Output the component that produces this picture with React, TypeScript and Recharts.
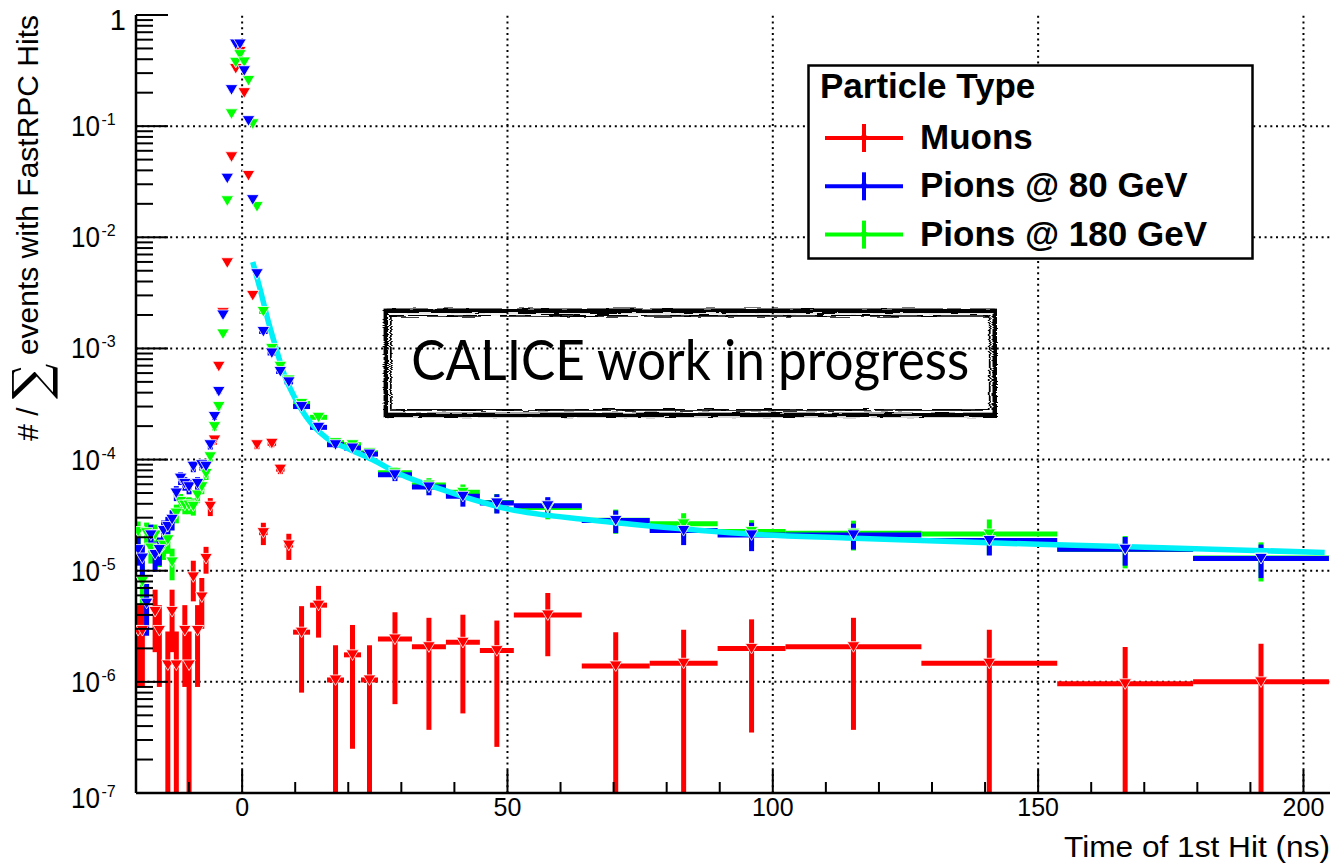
import React from 'react';
import {
  ComposedChart,
  XAxis,
  YAxis,
  Scatter,
  Line,
  ErrorBar,
  ReferenceLine,
  ReferenceArea,
  Legend,
} from 'recharts';

// Time-of-first-hit histogram binning (ns). The TDC counts in 0.8 ns steps;
// bins are merged further away from the prompt peak.
const BIN_EDGES = [
  -20, -19.2, -18.4, -17.6, -16.8, -16, -15.2, -14.4, -13.6, -12.8,
  -12, -11.2, -10.4, -9.6, -8.8, -8, -7.2, -6.4, -5.6, -4.8,
  -4, -3.2, -2.4, -1.6, -0.8, 0, 0.8, 1.6, 2.4, 3.2,
  4.8, 6.4, 8, 9.6, 12.8, 16, 19.2, 22.4, 25.6, 32,
  38.4, 44.8, 51.2, 64, 76.8, 89.6, 102.4, 128, 153.6, 179.2,
  204.8,
];

// Normalised entries per bin (null = empty bin) and their uncertainties.
const MUON_RATE = [
  2.9e-6, 2.9e-6, null, null, 4.3e-6, 2.9e-6, null, 1.42e-6, 4.3e-6, 1.42e-6,
  null, 2.9e-6, 1.42e-6, 8.8e-6, 2.9e-6, 5.8e-6, 1.29e-5, 3.8e-5, 1.5e-4, 6.9e-4,
  2.1e-3, 5.9e-3, 5.3e-2, 0.33, 0.47, 0.2, 3.6e-2, 3.0e-3, 1.36e-4, 2.2e-5,
  1.4e-4, 8.2e-5, 1.7e-5, 2.8e-6, 4.9e-6, 1.04e-6, 1.75e-6, 1.04e-6, 2.43e-6, 2.07e-6,
  2.27e-6, 1.91e-6, 4.0e-6, 1.39e-6, 1.47e-6, 2.0e-6, 2.07e-6, 1.47e-6, 9.6e-7, 1.0e-6,
];
const MUON_ERR = [
  2.0e-6, 2.0e-6, 0, 0, 2.45e-6, 2.0e-6, 0, 1.42e-6, 2.45e-6, 1.42e-6,
  0, 2.0e-6, 1.42e-6, 3.5e-6, 2.0e-6, 2.8e-6, 3.5e-6, 7e-6, 1.4e-5, 3e-5,
  6e-5, 1e-4, 0, 0, 0, 0, 0, 6e-5, 1.2e-5, 5e-6,
  1.1e-5, 8e-6, 4.5e-6, 2.0e-6, 2.4e-6, 1.1e-6, 1.5e-6, 1.1e-6, 1.8e-6, 1.7e-6,
  1.75e-6, 1.65e-6, 2.3e-6, 1.4e-6, 1.47e-6, 1.65e-6, 1.7e-6, 1.47e-6, 1.1e-6, 1.2e-6,
];

const PION80_RATE = [
  1.55e-5, 1.3e-5, 5.1e-6, 2.1e-5, 1.4e-5, 1.55e-5, 2.3e-5, 2.5e-5, 2.9e-5, 5.0e-5,
  6.8e-5, 6.1e-5, 5.7e-5, 8.7e-5, 6.1e-5, 9.0e-5, 8.7e-5, 1.36e-4, 2.44e-4, 4.1e-4,
  2.0e-3, 3.4e-2, 0.213, 0.548, 0.548, 0.315, 0.112, 2.18e-2, 4.7e-3, 1.42e-3,
  9.1e-4, 6.2e-4, 5.0e-4, 3.0e-4, 1.95e-4, 1.36e-4, 1.27e-4, 1.12e-4, 7.3e-5, 5.67e-5,
  4.67e-5, 4.07e-5, 3.84e-5, 2.83e-5, 2.3e-5, 2.1e-5, 2.1e-5, 1.87e-5, 1.56e-5, 1.29e-5,
];
const PION80_ERR = [
  4.4e-6, 4e-6, 2.5e-6, 5e-6, 4.2e-6, 4.4e-6, 5.3e-6, 5.5e-6, 6e-6, 7.7e-6,
  9e-6, 8.5e-6, 8.3e-6, 1e-5, 8.5e-6, 1.04e-5, 1e-5, 1.3e-5, 1.7e-5, 2.2e-5,
  5e-5, 0, 0, 0, 0, 0, 0, 0, 7e-5, 3.5e-5,
  2.8e-5, 2.3e-5, 2e-5, 1.2e-5, 1e-5, 9e-6, 9e-6, 8e-6, 9e-6, 9e-6,
  9e-6, 8e-6, 7.5e-6, 6.5e-6, 6e-6, 6e-6, 5.5e-6, 5e-6, 4.5e-6, 4.3e-6,
];

const PION180_RATE = [
  2.25e-5, 8e-6, 2.2e-5, 1.6e-5, 2.1e-5, 1.5e-5, 1.7e-5, 1.9e-5, 1.2e-5, 3.3e-5,
  4.2e-5, 3.9e-5, 3.9e-5, 3.8e-5, 4.8e-5, 5.7e-5, 7.5e-5, 1.06e-4, 1.98e-4, 3.0e-4,
  1.35e-3, 2.13e-2, 0.129, 0.375, 0.44, 0.378, 0.258, 0.105, 1.89e-2, 2.15e-3,
  1.0e-3, 6.9e-4, 5.2e-4, 3.2e-4, 2.4e-4, 1.42e-4, 1.36e-4, 1.15e-4, 7.6e-5, 5.9e-5,
  5.07e-5, 4.1e-5, 3.7e-5, 2.85e-5, 2.64e-5, 2.25e-5, 2.17e-5, 2.14e-5, 1.55e-5, 1.3e-5,
];
const PION180_ERR = [
  5.2e-6, 3e-6, 5.1e-6, 4.4e-6, 5e-6, 4.2e-6, 4.5e-6, 4.8e-6, 3.8e-6, 6.3e-6,
  7e-6, 6.8e-6, 6.8e-6, 6.7e-6, 7.5e-6, 8.2e-6, 9.5e-6, 1.1e-5, 1.5e-5, 1.9e-5,
  4e-5, 0, 0, 0, 0, 0, 0, 0, 0, 5e-5,
  3e-5, 2.5e-5, 2.1e-5, 1.3e-5, 1.1e-5, 9e-6, 9e-6, 8e-6, 9e-6, 9e-6,
  9e-6, 8e-6, 8e-6, 7e-6, 6.5e-6, 6e-6, 6.5e-6, 7.5e-6, 5e-6, 5e-6,
];

// Fitted late-hit curve for the pion samples.
const FIT_TIME = [2, 3.4, 5, 6.4, 8, 10, 12, 16, 20, 24.5, 30, 37, 50, 66, 80, 95, 114, 150, 175, 204];
const FIT_RATE = [
  6.0e-3, 3.4e-3, 1.7e-3, 1.0e-3, 5.7e-4, 3.55e-4, 2.45e-4, 1.55e-4, 1.25e-4, 1.0e-4,
  7.3e-5, 5.5e-5, 3.6e-5, 2.85e-5, 2.45e-5, 2.15e-5, 1.97e-5, 1.73e-5, 1.6e-5, 1.46e-5,
];

// Axes
const X_DOMAIN = [-20, 205];
const X_TICKS = [-10, 0, 10, 20, 30, 40, 50, 60, 70, 80, 90, 100, 110, 120, 130, 140, 150, 160, 170, 180, 190, 200];
const X_LABELS = [0, 50, 100, 150, 200];
const Y_DECADES = [1e-7, 1e-6, 1e-5, 1e-4, 1e-3, 1e-2, 1e-1, 1];
const Y_MULTIPLIERS = [1, 2, 3, 4, 5, 6, 7, 8, 9];
const Y_TICKS = Y_DECADES.flatMap((d) => (d === 1 ? [1] : Y_MULTIPLIERS.map((m) => m * d)));

// Text
const SERIES_NAMES = ['Muons', 'Pions @ 80 GeV', 'Pions @ 180 GeV'];
const LEGEND_TITLE = 'Particle Type';
const X_TITLE = 'Time of 1st Hit (ns)';
const Y_TITLE_PRE = '# / ';
const Y_TITLE_POST = ' events with FastRPC Hits';
const STAMP_TEXT = 'CALICE work in progress';
// stamp placement in data coordinates
const STAMP_X = [26.7, 142.2];
const STAMP_Y = [2.42e-4, 2.27e-3];

const COLORS = { Muons: '#ff0000', 'Pions @ 80 GeV': '#0000ff', 'Pions @ 180 GeV': '#00ff00' };
const FIT_COLOR = '#00f0f8';
const FONT = '"Liberation Sans", Arial, Helvetica, sans-serif';
const BAR_WIDTH = 5;

type Row = { x: number; y: number; ey: [number, number]; ex: [number, number] };

function buildRows(rate: (number | null)[], err: number[]): Row[] {
  const yFloor = Y_DECADES[0];
  const rows: Row[] = [];
  rate.forEach((v, i) => {
    if (v == null) return;
    const lo = BIN_EDGES[i];
    const hi = BIN_EDGES[i + 1];
    const x = (lo + hi) / 2;
    const e = err[i];
    rows.push({
      x,
      y: v,
      ey: [Math.min(e, v - yFloor), e],
      ex: [x - lo, Math.min(hi, X_DOMAIN[1]) - x],
    });
  });
  return rows;
}

const muonRows = buildRows(MUON_RATE, MUON_ERR);
const pion80Rows = buildRows(PION80_RATE, PION80_ERR);
const pion180Rows = buildRows(PION180_RATE, PION180_ERR);
const fitRows = FIT_TIME.map((x, i) => ({ x, y: FIT_RATE[i] }));

const isDecade = (v: number) => Math.abs(Math.log10(v) - Math.round(Math.log10(v))) < 1e-6;

const DownTriangle = (props: any) => {
  const { cx, cy, fill } = props;
  if (cx == null || cy == null || isNaN(cx) || isNaN(cy)) return null;
  return (
    <polygon
      points={`${cx - 6.3},${cy - 5} ${cx + 6.3},${cy - 5} ${cx},${cy + 5.6}`}
      fill={fill}
      stroke="#ffffff"
      strokeWidth={0.8}
    />
  );
};

const LeftTick = (props: any) => {
  const { x, y, payload } = props;
  const v = payload.value;
  const major = isDecade(v);
  const exp = Math.round(Math.log10(v));
  const base = y + (exp === -7 ? 15 : 10);
  return (
    <g>
      <line x1={x} x2={x + (major ? 32 : 17)} y1={y} y2={y} stroke="#000" strokeWidth={2} />
      {major && exp === 0 && (
        <text x={x - 10} y={y + 15} textAnchor="end" fontFamily={FONT} fontSize={29} fill="#000">
          1
        </text>
      )}
      {major && exp !== 0 && (
        <g fontFamily={FONT} fill="#000">
          <text x={x - 36} y={base} textAnchor="end" fontSize={29} textLength={29} lengthAdjust="spacingAndGlyphs">
            10
          </text>
          <text x={x - 34.5} y={base - 11} textAnchor="start" fontSize={16}>
            {`${exp}`}
          </text>
        </g>
      )}
    </g>
  );
};

const RightTick = (props: any) => {
  const { x, y, payload } = props;
  const major = isDecade(payload.value);
  return <line x1={x} x2={x - (major ? 32 : 17)} y1={y} y2={y} stroke="#000" strokeWidth={2} />;
};

const BottomTick = (props: any) => {
  const { x, y, payload } = props;
  const major = X_LABELS.includes(payload.value);
  return (
    <g>
      <line x1={x} x2={x} y1={y} y2={y - (major ? 23 : 11)} stroke="#000" strokeWidth={2} />
      {major && (
        <text x={x} y={y + 23} textAnchor="middle" fontFamily={FONT} fontSize={25} fill="#000">
          {payload.value}
        </text>
      )}
    </g>
  );
};

const TopTick = (props: any) => {
  const { x, y, payload } = props;
  const major = X_LABELS.includes(payload.value);
  return <line x1={x} x2={x} y1={y} y2={y + (major ? 23 : 11)} stroke="#000" strokeWidth={2} />;
};

const XTitle = (props: any) => {
  const vb = props.viewBox;
  return (
    <text
      x={vb.x + vb.width}
      y={vb.y + 64}
      textAnchor="end"
      fontFamily={FONT}
      fontSize={30}
      textLength={266}
      lengthAdjust="spacingAndGlyphs"
      fill="#000"
    >
      {X_TITLE}
    </text>
  );
};

const YTitle = (props: any) => {
  const vb = props.viewBox;
  return (
    <text
      transform={`translate(${vb.x + 38}, ${vb.y}) rotate(-90)`}
      textAnchor="end"
      fontFamily={FONT}
      fontSize={30}
      fill="#000"
    >
      <tspan>{Y_TITLE_PRE}</tspan>
      <tspan fontFamily='"DejaVu Serif", "Liberation Serif", serif' fontSize={50} dy={10}>
        ∑
      </tspan>
      <tspan dy={-10}>{Y_TITLE_POST}</tspan>
    </text>
  );
};

const Stamp = (props: any) => {
  const { x, y, width, height } = props;
  if (x == null || isNaN(x)) return null;
  return (
    <g>
      <defs>
        <filter id="brush" x="-5%" y="-20%" width="110%" height="140%">
          <feTurbulence type="fractalNoise" baseFrequency="0.05 0.9" numOctaves={2} seed={7} result="n" />
          <feDisplacementMap in="SourceGraphic" in2="n" scale={4} xChannelSelector="R" yChannelSelector="G" />
        </filter>
      </defs>
      <rect x={x} y={y} width={width} height={height} fill="#ffffff" />
      <g filter="url(#brush)" fill="none" stroke="#000">
        <rect x={x + 2} y={y + 2} width={width - 4} height={height - 4} strokeWidth={4.5} />
        <rect x={x + 7} y={y + 7} width={width - 14} height={height - 14} strokeWidth={1.8} />
        <rect x={x + 3.5} y={y + 0.5} width={width - 6} height={height - 2} strokeWidth={1.2} />
      </g>
      <text
        x={x + width / 2}
        y={y + height / 2 + 17}
        textAnchor="middle"
        fontFamily='Lato, "Open Sans", sans-serif'
        fontSize={56}
        textLength={558}
        lengthAdjust="spacingAndGlyphs"
        fill="#000"
      >
        {STAMP_TEXT}
      </text>
    </g>
  );
};

const LegendBox = (props: any) => {
  const payload = props.payload || [];
  const items = SERIES_NAMES.map((n) => payload.find((p: any) => p.value === n) || { value: n, color: COLORS[n] });
  return (
    <svg width={448} height={198} style={{ display: 'block' }}>
      <rect x={1.5} y={1.5} width={444} height={193} fill="#fff" stroke="#000" strokeWidth={2.5} />
      <text x={13} y={34} fontFamily={FONT} fontWeight="bold" fontSize={35} fill="#000">
        {LEGEND_TITLE}
      </text>
      {items.map((it: any, i: number) => {
        const cy = 74 + i * 48.3;
        const c = COLORS[it.value as keyof typeof COLORS] || it.color;
        return (
          <g key={it.value}>
            <line x1={18} x2={96} y1={cy} y2={cy} stroke={c} strokeWidth={4} />
            <line x1={57} x2={57} y1={cy - 14} y2={cy + 14} stroke={c} strokeWidth={4} />
            <polygon points={`${57 - 3},${cy - 2.5} ${57 + 3},${cy - 2.5} ${57},${cy + 3}`} fill={c} />
            <text x={113} y={cy + 11} fontFamily={FONT} fontWeight="bold" fontSize={35} fill="#000">
              {it.value}
            </text>
          </g>
        );
      })}
    </svg>
  );
};

const GRID = { stroke: '#000', strokeWidth: 2, strokeDasharray: '2 3.7' };

export default function App() {
  return (
    <div style={{ position: 'absolute', left: 0, top: 0, width: 1335, height: 863, background: '#fff' }}>
      <ComposedChart width={1335} height={863} margin={{ top: 15, right: 5, bottom: 0, left: 0 }}>
        <XAxis
          xAxisId="b"
          type="number"
          dataKey="x"
          domain={X_DOMAIN}
          ticks={X_TICKS}
          interval={0}
          allowDataOverflow
          height={70}
          tickSize={0}
          tickMargin={0}
          tickLine={false}
          tick={<BottomTick />}
          axisLine={{ stroke: '#000', strokeWidth: 2.5 }}
          label={<XTitle />}
        />
        <XAxis
          xAxisId="t"
          orientation="top"
          type="number"
          dataKey="x"
          domain={X_DOMAIN}
          ticks={X_TICKS}
          interval={0}
          allowDataOverflow
          height={0}
          tickSize={0}
          tickMargin={0}
          tickLine={false}
          tick={<TopTick />}
          axisLine={{ stroke: '#000', strokeWidth: 2.5 }}
        />
        <YAxis
          yAxisId="l"
          type="number"
          scale="log"
          domain={[Y_DECADES[0], 1]}
          ticks={Y_TICKS}
          interval={0}
          allowDataOverflow
          width={136}
          tickSize={0}
          tickMargin={0}
          tickLine={false}
          tick={<LeftTick />}
          axisLine={{ stroke: '#000', strokeWidth: 2.5 }}
          label={<YTitle />}
        />
        <YAxis
          yAxisId="r"
          orientation="right"
          type="number"
          scale="log"
          domain={[Y_DECADES[0], 1]}
          ticks={Y_TICKS}
          interval={0}
          allowDataOverflow
          width={0}
          tickSize={0}
          tickMargin={0}
          tickLine={false}
          tick={<RightTick />}
          axisLine={{ stroke: '#000', strokeWidth: 2.5 }}
        />

        {X_LABELS.map((v) => (
          <ReferenceLine key={`gx${v}`} x={v} xAxisId="b" yAxisId="l" {...GRID} />
        ))}
        {Y_DECADES.slice(1, -1).map((v) => (
          <ReferenceLine key={`gy${v}`} y={v} xAxisId="b" yAxisId="l" {...GRID} />
        ))}

        <ReferenceArea
          xAxisId="b"
          yAxisId="l"
          x1={STAMP_X[0]}
          x2={STAMP_X[1]}
          y1={STAMP_Y[0]}
          y2={STAMP_Y[1]}
          shape={(p: any) => <Stamp {...p} />}
        />

        <Scatter
          name={SERIES_NAMES[0]}
          data={muonRows}
          dataKey="y"
          xAxisId="b"
          yAxisId="l"
          fill={COLORS.Muons}
          shape={(p: any) => <DownTriangle {...p} />}
          isAnimationActive={false}
        >
          <ErrorBar dataKey="ey" direction="y" width={0} stroke={COLORS.Muons} strokeWidth={BAR_WIDTH} isAnimationActive={false} />
          <ErrorBar dataKey="ex" direction="x" width={0} stroke={COLORS.Muons} strokeWidth={BAR_WIDTH} isAnimationActive={false} />
        </Scatter>
        <Scatter
          name={SERIES_NAMES[2]}
          data={pion180Rows}
          dataKey="y"
          xAxisId="b"
          yAxisId="l"
          fill={COLORS['Pions @ 180 GeV']}
          shape={(p: any) => <DownTriangle {...p} />}
          isAnimationActive={false}
        >
          <ErrorBar dataKey="ey" direction="y" width={0} stroke={COLORS['Pions @ 180 GeV']} strokeWidth={BAR_WIDTH} isAnimationActive={false} />
          <ErrorBar dataKey="ex" direction="x" width={0} stroke={COLORS['Pions @ 180 GeV']} strokeWidth={BAR_WIDTH} isAnimationActive={false} />
        </Scatter>
        <Scatter
          name={SERIES_NAMES[1]}
          data={pion80Rows}
          dataKey="y"
          xAxisId="b"
          yAxisId="l"
          fill={COLORS['Pions @ 80 GeV']}
          shape={(p: any) => <DownTriangle {...p} />}
          isAnimationActive={false}
        >
          <ErrorBar dataKey="ey" direction="y" width={0} stroke={COLORS['Pions @ 80 GeV']} strokeWidth={BAR_WIDTH} isAnimationActive={false} />
          <ErrorBar dataKey="ex" direction="x" width={0} stroke={COLORS['Pions @ 80 GeV']} strokeWidth={BAR_WIDTH} isAnimationActive={false} />
        </Scatter>
        <Line
          data={fitRows}
          dataKey="y"
          xAxisId="b"
          yAxisId="l"
          type="monotone"
          stroke={FIT_COLOR}
          strokeWidth={5.5}
          dot={false}
          legendType="none"
          isAnimationActive={false}
        />

        <Legend
          layout="horizontal"
          verticalAlign="middle"
          align="center"
          content={(p: any) => <LegendBox {...p} />}
          wrapperStyle={{ left: 807, top: 64, width: 448, height: 198 }}
        />
      </ComposedChart>
    </div>
  );
}
